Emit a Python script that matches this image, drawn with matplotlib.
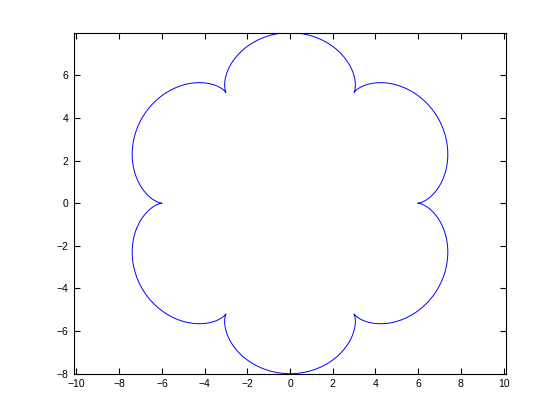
import numpy as np
import matplotlib
matplotlib.use("Agg")
import matplotlib.pyplot as plt

# Epicycloid parameters (six cusps, cusp radius 6, outer radius 8)
R_fixed = 6.0
r_roll = 1.0
n_points = 1000
xticks = [-10, -8, -6, -4, -2, 0, 2, 4, 6, 8, 10]
yticks = [-8, -6, -4, -2, 0, 2, 4, 6]

t = np.linspace(0, 2 * np.pi, n_points)
k = (R_fixed + r_roll) / r_roll
x = (R_fixed + r_roll) * np.cos(t) - r_roll * np.cos(k * t)
y = (R_fixed + r_roll) * np.sin(t) - r_roll * np.sin(k * t)

plt.rcParams['font.family'] = ['Liberation Sans', 'DejaVu Sans']
fig = plt.figure(figsize=(5.6, 4.2), dpi=100)
ax = fig.add_axes([73.7 / 560, 1 - 373.7 / 420, (506.3 - 73.7) / 560, (373.7 - 32.7) / 420])
ax.plot(x, y, color=(0, 0, 1), linewidth=0.7)
ax.set_xlim(-10.13, 10.13)
ax.set_ylim(-8, 8)
ax.set_xticks(xticks)
ax.set_yticks(yticks)
ax.tick_params(direction='in', top=True, right=True, length=4, width=0.8, labelsize=7.5, pad=4)
for s in ax.spines.values():
    s.set_linewidth(0.8)
fig.savefig("out.png", dpi=100, facecolor='white')
